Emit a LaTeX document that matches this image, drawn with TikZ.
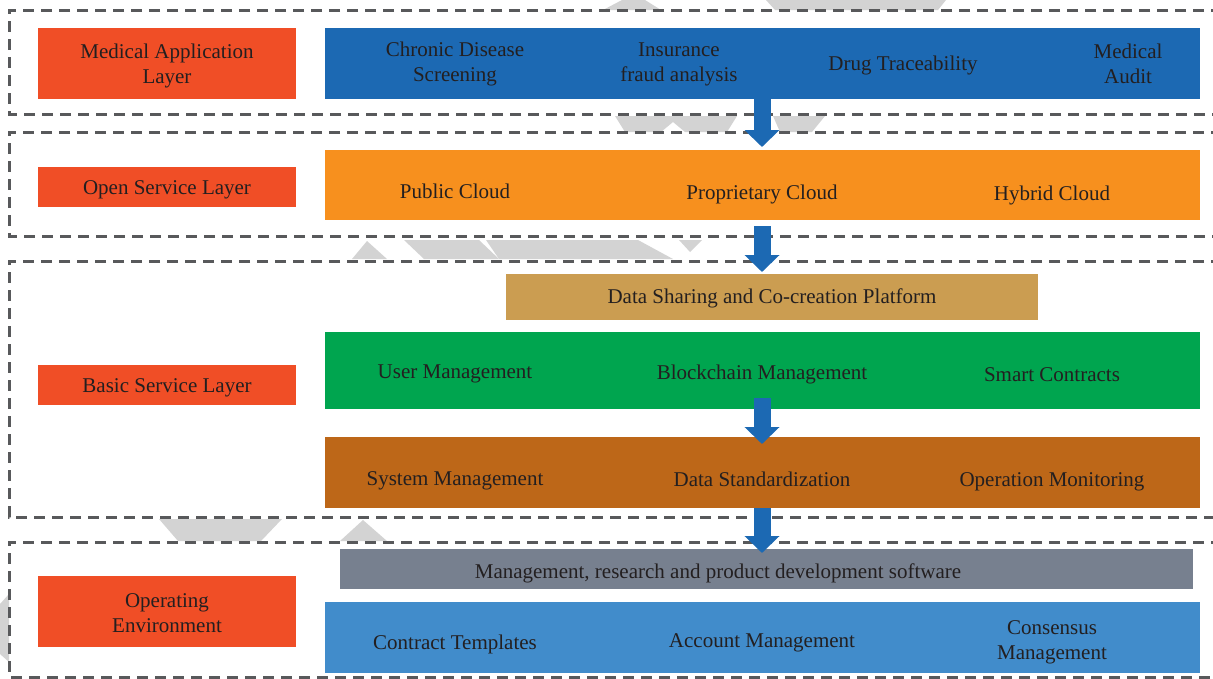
\documentclass[tikz,border=0pt]{standalone}
\usepackage{fontspec}
\setmainfont{Liberation Serif}
\usetikzlibrary{arrows.meta}
\definecolor{lab}{HTML}{F04E26}
\definecolor{cblue}{HTML}{1C69B3}
\definecolor{corange}{HTML}{F7901E}
\definecolor{ctan}{HTML}{CB9D51}
\definecolor{cgreen}{HTML}{00A54F}
\definecolor{cbrown}{HTML}{BD6718}
\definecolor{cgrey}{HTML}{77808F}
\definecolor{clblue}{HTML}{418CCB}
\definecolor{ink}{HTML}{231F20}
\definecolor{dashc}{HTML}{58595B}
\definecolor{wm}{HTML}{D3D3D3}
\begin{document}
\begin{tikzpicture}[x=1pt,y=-1pt,
  bar/.style={anchor=north west, inner sep=0pt, outer sep=0pt},
  txt/.style={text=ink, font=\fontsize{21}{25}\selectfont, align=center, inner sep=0pt},
  one/.style={txt, text height=14pt, text depth=5pt, yshift=-2pt},
  layerbox/.style={draw=dashc, line width=3pt, dash pattern=on 11pt off 7pt},
  flow/.style={draw=cblue, line width=17pt, -{Triangle[width=34pt,length=17pt]}}]
\useasboundingbox (0,0) rectangle (1213,678);
\clip (0,0) rectangle (1213,678);
% watermark fragments
\fill[wm] (603,10) -- (622,0) -- (645,0) -- (661,10) -- cycle;
\fill[wm] (766,0) -- (946,0) -- (938,10) -- (775,10) -- cycle;
\fill[wm] (615,116) -- (737,116) -- (727,132) -- (685,132) -- (673,122) -- (661,132) -- (625,132) -- cycle;
\fill[wm] (773,116) -- (825,116) -- (812,132) -- (780,132) -- cycle;
\fill[wm] (352,259) -- (367,241) -- (387,259) -- cycle;
\fill[wm] (404,240) -- (479,240) -- (499,259) -- (424,259) -- cycle;
\fill[wm] (499,259) -- (486,240) -- (638,240) -- (673,259) -- cycle;
\fill[wm] (679,240) -- (702,240) -- (690,252) -- cycle;
\fill[wm] (159,519) -- (282,519) -- (261,541) -- (178,541) -- cycle;
\fill[wm] (340,541) -- (363,520) -- (387,541) -- cycle;
\fill[wm] (0,604) -- (9,594) -- (9,662) -- (0,654) -- cycle;
% layer frames
\draw[layerbox] (1240,10) -- (9,10) -- (9,114) -- (1240,114);
\draw[layerbox] (1240,132) -- (9,132) -- (9,236) -- (1240,236);
\draw[layerbox] (1240,261) -- (9,261) -- (9,517) -- (1240,517);
\draw[layerbox] (1240,542) -- (9,542) -- (9,677) -- (1240,677);
% layer labels
\node[bar, fill=lab, minimum width=258pt, minimum height=71pt] (l1) at (38,28) {};
\node[txt] at ([yshift=-2pt]l1.center) {Medical Application\\Layer};
\node[bar, fill=lab, minimum width=258pt, minimum height=40pt] (l2) at (38,167) {};
\node[one] at ([yshift=-1pt]l2.center) {Open Service Layer};
\node[bar, fill=lab, minimum width=258pt, minimum height=40pt] (l3) at (38,365) {};
\node[one] at ([yshift=-1pt]l3.center) {Basic Service Layer};
\node[bar, fill=lab, minimum width=258pt, minimum height=71pt] (l4) at (38,576) {};
\node[txt] at ([yshift=-2pt]l4.center) {Operating\\Environment};
% bars
\node[bar, fill=cblue, minimum width=875pt, minimum height=71pt] (app) at (325,28) {};
\node[bar, fill=corange, minimum width=875pt, minimum height=70pt] (open) at (325,150) {};
\node[bar, fill=ctan, minimum width=532pt, minimum height=46pt] (share) at (506,274) {};
\node[bar, fill=cgreen, minimum width=875pt, minimum height=77pt] (bc) at (325,332) {};
\node[bar, fill=cbrown, minimum width=875pt, minimum height=71pt] (sys) at (325,437) {};
\node[bar, fill=cgrey, minimum width=853pt, minimum height=40pt] (soft) at (340,549) {};
\node[bar, fill=clblue, minimum width=875pt, minimum height=71pt] (core) at (325,602) {};
% texts
\node[txt] at (455,64) {Chronic Disease\\Screening};
\node[txt] at (679,64) {Insurance\\fraud analysis};
\node[one] at (903,64) {Drug Traceability};
\node[txt] at (1128,64) {Medical\\Audit};
\node[one] at (455,192) {Public Cloud};
\node[one] at (762,193) {Proprietary Cloud};
\node[one] at (1052,194) {Hybrid Cloud};
\node[one] at (772,297) {Data Sharing and Co-creation Platform};
\node[one] at (455,372) {User Management};
\node[one] at (762,373) {Blockchain Management};
\node[one] at (1052,375) {Smart Contracts};
\node[one] at (455,479) {System Management};
\node[one] at (762,480) {Data Standardization};
\node[one] at (1052,480) {Operation Monitoring};
\node[one] at (718,572) {Management, research and product development software};
\node[one] at (455,643) {Contract Templates};
\node[one] at (762,641) {Account Management};
\node[txt] at (1052,642) {Consensus\\Management};
% arrows
\coordinate (ax) at (762,0);
\draw[flow, shorten >=3pt] (app.south -| ax) -- (open.north -| ax);
\draw[flow, shorten <=6pt, shorten >=2pt] (open.south -| ax) -- (share.north -| ax);
\draw[flow, shorten <=-11pt, shorten >=-7pt] (bc.south -| ax) -- (sys.north -| ax);
\draw[flow, shorten >=-4pt] (sys.south -| ax) -- (soft.north -| ax);
\end{tikzpicture}
\end{document}
